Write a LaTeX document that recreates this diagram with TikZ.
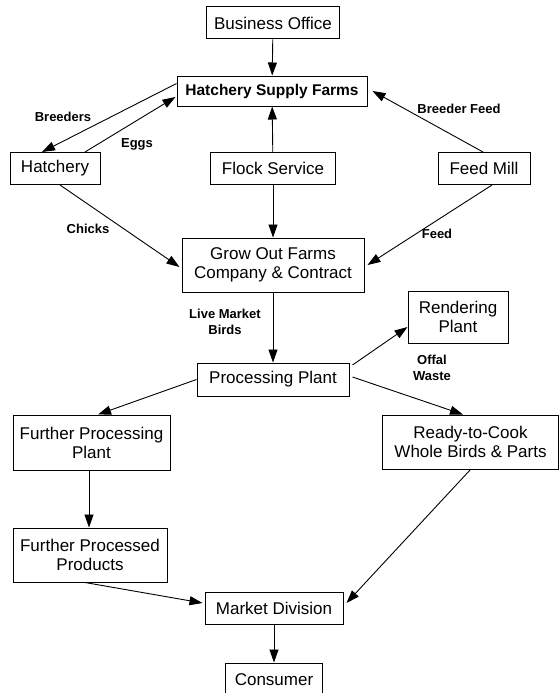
\documentclass[tikz,border=0pt]{standalone}
\usepackage{fontspec}
\setmainfont{Liberation Sans}
\usepackage{tikz}
\usetikzlibrary{shapes}
\usetikzlibrary{arrows.meta}
\usetikzlibrary{calc}
\begin{document}
\begin{tikzpicture}[x=1pt, y=-1pt,
 every text node part/.style={align=center},
block/.style={rectangle, draw=black, inner sep=0pt, minimum height=32pt, line width=1pt, font=\fontsize{17}{19}\selectfont},
tall/.style={block, minimum height=54pt},
lbl/.style={inner sep=0pt, font=\fontsize{13}{16}\selectfont\bfseries},
arrow/.style={-{Triangle[length=13pt, width=9pt]}, line width=0.9pt}]

	\useasboundingbox (0,0) rectangle (559,693);

	\node[block, minimum width=133pt] (office) at (273,23) {Business Office};
	\node[block, minimum width=190pt, minimum height=30pt, font=\fontsize{15.5}{17}\selectfont\bfseries] (hsf) at (272,91) {Hatchery Supply Farms};
	\node[block, minimum width=90pt] (hatchery) at (55,168.5) {Hatchery};
	\node[block, minimum width=125pt] (flock) at (273,168.5) {Flock Service};
	\node[block, minimum width=92pt] (feedmill) at (484,168.5) {Feed Mill};
	\node[tall, minimum width=182pt] (growout) at (273,265) {Grow Out Farms\\ Company \& Contract};
	\node[tall, minimum width=100pt, minimum height=52pt] (render) at (458,317) {Rendering\\ Plant};
	\node[block, minimum width=152pt, minimum height=33pt] (process) at (273,379.5) {Processing Plant};
	\node[tall, minimum width=157pt, minimum height=55pt] (further) at (91.5,442.5) {Further Processing\\ Plant};
	\node[tall, minimum width=176pt] (rtc) at (470.5,442) {Ready-to-Cook\\ Whole Birds \& Parts};
	\node[tall, minimum width=154pt] (products) at (90,555) {Further Processed\\ Products};
	\node[block, minimum width=138pt] (market) at (274,608) {Market Division};
	\node[block, minimum width=97pt, minimum height=34pt] (consumer) at (274,680) {Consumer};

	\node[lbl] (breeders) at (63,117) {Breeders};
	\node[lbl] (eggs) at (137,144) {Eggs};
	\node[lbl] (breederfeed) at (459,109) {Breeder Feed};
	\node[lbl] (chicks) at (88,229) {Chicks};
	\node[lbl] (feed) at (437,234) {Feed};
	\node[lbl] (livebirds) at (225,322) {Live Market\\ Birds};
	\node[lbl] (offal) at (432,368) {Offal\\ Waste};

	\draw (office) edge [arrow] (hsf);
	\draw ($(hsf.west) + (0,-7.5)$) edge [arrow] ($(hatchery.north) + (-13,0)$);
	\draw ($(hatchery.north) + (30,0)$) edge [arrow] ($(hsf.west) + (-1,6)$);
	\draw (flock) edge [arrow] (hsf);
	\draw ($(feedmill.north) + (-1,0)$) edge [arrow] ($(hsf.east) + (5,0)$);
	\draw (flock) edge [arrow] (growout);
	\draw ($(hatchery.south) + (5,0)$) edge [arrow] ($(growout.west) + (-2,2)$);
	\draw ($(feedmill.south) + (8,0)$) edge [arrow] ($(growout.east) + (3,0)$);
	\draw (growout) edge [arrow] (process);
	\draw ($(process.east) + (3,-14.5)$) edge [arrow] ($(render.west) + (0,10)$);
	\draw (process.west) edge [arrow] ($(further.north) + (6.5,0)$);
	\draw ($(process.east) + (3,-2.5)$) edge [arrow] ($(rtc.north) + (-7.5,0)$);
	\draw ($(further.south) + (-2.5,0)$) edge [arrow] ($(products.north) + (-1,0)$);
	\draw ($(products.south) + (-5,0)$) edge [arrow] ($(market.west) + (-2,-5)$);
	\draw (rtc.south) edge [arrow] ($(market.east) + (3,-5)$);
	\draw (market) edge [arrow] (consumer);
\end{tikzpicture}
\end{document}
